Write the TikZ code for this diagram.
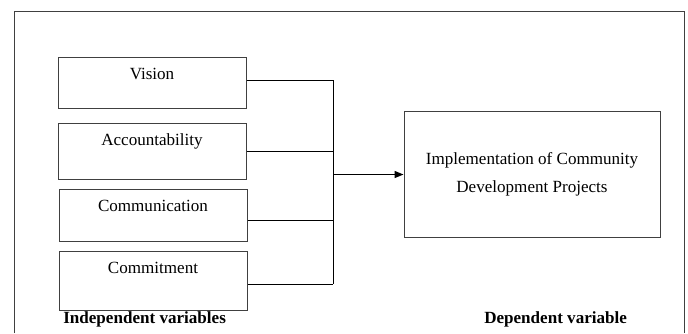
\documentclass[tikz,border=0pt]{standalone}
\usepackage{fontspec}
\setmainfont{Liberation Serif}
\usetikzlibrary{arrows.meta}

\begin{document}
\begin{tikzpicture}[x=0.75pt,y=0.75pt,yscale=-1,
  varbox/.style={draw=black!75, line width=0.75pt, minimum width=141pt, inner sep=0pt},
  link/.style={draw=black, line width=0.75pt},
  vartext/.style={anchor=base, inner sep=0.75pt, font=\fontsize{12.8}{15}\selectfont},
  headtext/.style={anchor=base west, inner sep=0.75pt, font=\fontsize{12.8}{15}\selectfont\bfseries}]
\useasboundingbox (0,0) rectangle (688,333);

%Frame
\draw [black!75, line width=0.75pt] (14,333) -- (14,11) -- (684,11) -- (684,333) ;

%Shape: Rectangle [id:vision]
\node [varbox, minimum height=38.25pt] (vision) at (152,82.5) {};
%Shape: Rectangle [id:account]
\node [varbox, minimum height=42pt] (account) at (152,151) {};
%Shape: Rectangle [id:commun]
\node [varbox, minimum height=39pt] (commun) at (153,215) {};
%Shape: Rectangle [id:commit]
\node [varbox, minimum height=44.25pt] (commit) at (153,280.5) {};
%Shape: Rectangle [id:impl]
\node [varbox, minimum width=192pt, minimum height=94.5pt, align=center, font=\fontsize{12.8}{21}\selectfont] (impl) at (532,174) {Implementation of Community\\Development Projects};

% Text Node
\node [vartext] (visiontext) at (152,79) {Vision};
% Text Node
\node [vartext] (accounttext) at (152,145) {Accountability};
% Text Node
\node [vartext] (communtext) at (153,211) {Communication};
% Text Node
\node [vartext] (committext) at (153,273) {Commitment};
% Text Node
\node [headtext] (indep) at (62,323.5) {Independent variables};
% Text Node
\node [headtext] (dep) at (483,323.5) {Dependent variable};

%Bus
\coordinate (bus1) at (333,80);
\coordinate (bus2) at (333,151);
\coordinate (bus3) at (333,220.5);
\coordinate (bus4) at (333,284);
\coordinate (busmid) at (333,174.5);
\draw [link] (bus1) -- (bus4) ;
%Straight Lines
\draw [link] (vision.east |- bus1) -- (bus1) ;
\draw [link] (account.east |- bus2) -- (bus2) ;
\draw [link] (commun.east |- bus3) -- (bus3) ;
\draw [link] (commit.east |- bus4) -- (bus4) ;
%Arrow
\draw [link, line width=1pt, -{Triangle[length=6.75pt,width=5.25pt]}] (busmid) -- (impl.west |- busmid) ;

\end{tikzpicture}
\end{document}
